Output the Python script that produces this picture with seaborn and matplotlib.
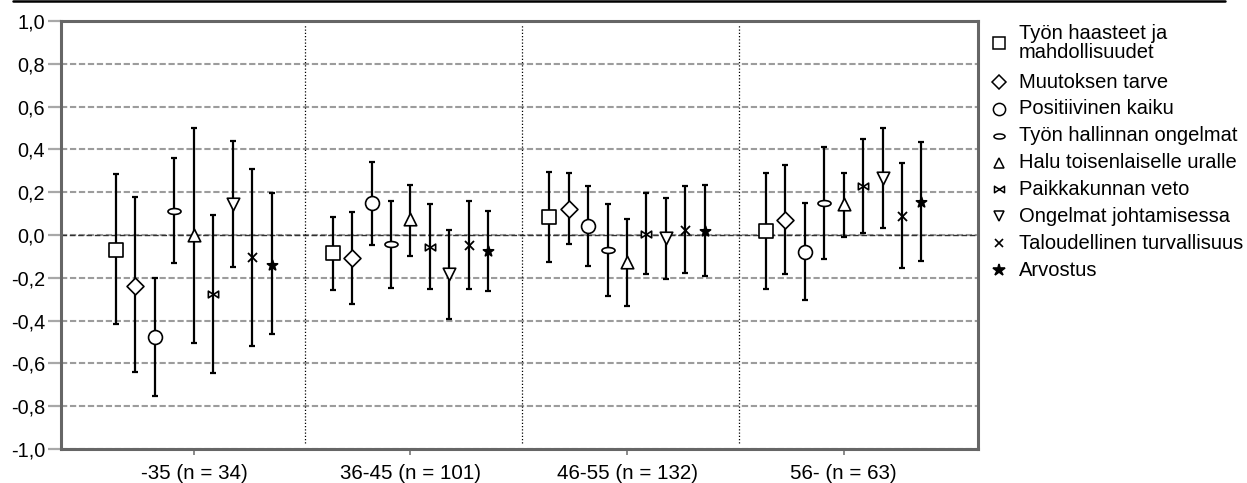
import numpy as np
import pandas as pd
import matplotlib
matplotlib.use("Agg")
import matplotlib.pyplot as plt
from matplotlib.path import Path
from matplotlib.lines import Line2D
import seaborn as sns

# ---- data -------------------------------------------------------------
age_groups = ["-35 (n = 34)", "36-45 (n = 101)", "46-55 (n = 132)", "56- (n = 63)"]

factors = [
    "Työn haasteet ja\nmahdollisuudet",
    "Muutoksen tarve",
    "Positiivinen kaiku",
    "Työn hallinnan ongelmat",
    "Halu toisenlaiselle uralle",
    "Paikkakunnan veto",
    "Ongelmat johtamisessa",
    "Taloudellinen turvallisuus",
    "Arvostus",
]

# mean factor score per age group (one row per factor)
means = [
    [-0.070, -0.086, 0.083, 0.019],
    [-0.237, -0.109, 0.121, 0.070],
    [-0.478, 0.148, 0.042, -0.081],
    [0.114, -0.042, -0.070, 0.151],
    [0.000, 0.073, -0.125, 0.145],
    [-0.276, -0.055, 0.005, 0.231],
    [0.145, -0.182, -0.016, 0.265],
    [-0.101, -0.047, 0.023, 0.089],
    [-0.140, -0.073, 0.019, 0.156],
]

# 95 % confidence interval, lower bound
ci_low = [
    [-0.416, -0.257, -0.128, -0.252],
    [-0.642, -0.322, -0.044, -0.184],
    [-0.752, -0.047, -0.145, -0.304],
    [-0.132, -0.249, -0.285, -0.114],
    [-0.506, -0.098, -0.330, -0.011],
    [-0.646, -0.254, -0.184, 0.008],
    [-0.148, -0.394, -0.207, 0.031],
    [-0.517, -0.254, -0.179, -0.156],
    [-0.464, -0.262, -0.192, -0.121],
]

# 95 % confidence interval, upper bound
ci_high = [
    [0.285, 0.086, 0.296, 0.291],
    [0.179, 0.109, 0.291, 0.327],
    [-0.199, 0.343, 0.231, 0.151],
    [0.361, 0.160, 0.145, 0.413],
    [0.500, 0.232, 0.075, 0.291],
    [0.093, 0.145, 0.198, 0.447],
    [0.438, 0.023, 0.174, 0.502],
    [0.308, 0.160, 0.229, 0.335],
    [0.198, 0.111, 0.234, 0.436],
]

y_ticks = [-1.0, -0.8, -0.6, -0.4, -0.2, 0.0, 0.2, 0.4, 0.6, 0.8, 1.0]

# ---- marker shapes ----------------------------------------------------
_circle = Path.unit_circle()
ellipse_marker = Path(_circle.vertices * np.array([1.0, 0.45]), _circle.codes)
bowtie_marker = Path(
    [(-1, -0.65), (0, 0), (-1, 0.65), (-1, -0.65),
     (1, -0.65), (0, 0), (1, 0.65), (1, -0.65)],
    [Path.MOVETO, Path.LINETO, Path.LINETO, Path.CLOSEPOLY,
     Path.MOVETO, Path.LINETO, Path.LINETO, Path.CLOSEPOLY],
)

# (marker, size in plot [pt], size in legend [pt], open marker?)
styles = [
    ("s", 10.0, 9.0, True),
    ("D", 8.6, 7.6, True),
    ("o", 10.0, 8.8, True),
    (ellipse_marker, 9.4, 8.0, True),
    ("^", 9.0, 7.6, True),
    (bowtie_marker, 7.4, 7.2, True),
    ("v", 9.0, 7.6, True),
    ("x", 6.5, 6.0, False),
    ("*", 7.6, 9.0, False),
]

# ---- figure -----------------------------------------------------------
sns.set_theme(style="white")
plt.rcParams["font.family"] = ["Liberation Sans", "DejaVu Sans"]
plt.rcParams["text.color"] = "black"

W, H = 1247, 483
fig = plt.figure(figsize=(W / 100, H / 100), dpi=100)
fig.patch.set_facecolor("white")
ax = fig.add_axes([61 / W, 1 - 449 / H, (978 - 61) / W, (449 - 21) / H])

n_fac = len(factors)
step = 0.09
group_pos = np.arange(len(age_groups))

for i, name in enumerate(factors):
    marker, size, _, is_open = styles[i]
    m = np.array(means[i])
    lo = np.array(ci_low[i])
    hi = np.array(ci_high[i])
    df = pd.DataFrame({"x": group_pos + (i - (n_fac - 1) / 2) * step, "mean": m})

    ax.errorbar(df["x"], df["mean"], yerr=[m - lo, hi - m], fmt="none",
                ecolor="black", elinewidth=1.6, capsize=2.4, capthick=1.6,
                zorder=3)
    if is_open:
        sns.scatterplot(data=df, x="x", y="mean", marker=marker, s=size ** 2,
                        facecolor="white", edgecolor="black", linewidth=1.2,
                        ax=ax, zorder=4, legend=False)
    else:
        sns.scatterplot(data=df, x="x", y="mean", marker=marker, s=size ** 2,
                        color="black", edgecolor="black", linewidth=1.3,
                        ax=ax, zorder=4, legend=False)

# axes limits and ticks
ax.set_xlim(-0.614, 3.621)
ax.set_ylim(-1.0, 1.0)
ax.set_xticks(group_pos)
ax.set_xticklabels(age_groups)
ax.set_yticks(y_ticks)
ax.set_yticklabels([f"{v:.1f}".replace(".", ",") for v in y_ticks])
ax.set_xlabel("")
ax.set_ylabel("")
ax.tick_params(axis="y", length=9.5, width=1.6, color="#a8a8a8", pad=2,
               labelsize=14.3, labelcolor="black", left=True)
ax.tick_params(axis="x", length=4, width=1.4, color="#8a8a8a", pad=7,
               labelsize=14.8, labelcolor="black", bottom=True)

for sp in ax.spines.values():
    sp.set_visible(True)
    sp.set_color("#666666")
    sp.set_linewidth(2.2)
    sp.set_zorder(5)

# horizontal reference lines
ax.grid(axis="y", color="#9c9c9c", linestyle=(0, (3.0, 1.3)), linewidth=1.5,
        zorder=1)
ax.grid(axis="x", visible=False)
ax.set_axisbelow(True)
ax.axhline(0, color="#303030", linestyle=(0, (4.0, 2.0)), linewidth=1.0,
           zorder=2)

# dotted separators between age groups
ax.vlines(group_pos[:-1] + 0.515, -0.97, 0.98, colors="black",
          linestyles=(0, (1, 1.6)), linewidth=0.9, zorder=2)

# rule across the top
fig.add_artist(Line2D([13 / W, 1225 / W], [1 - 1.2 / H] * 2,
                      transform=fig.transFigure, color="black", linewidth=1.8))

# ---- legend -----------------------------------------------------------
mark_x = 999 / W
text_x = 1019 / W
row_y = [43] + list(82 + 26.86 * np.arange(n_fac - 1))
for i, name in enumerate(factors):
    marker, _, lsize, is_open = styles[i]
    yf = 1 - row_y[i] / H
    fig.add_artist(Line2D([mark_x], [yf], transform=fig.transFigure,
                          marker=marker, markersize=lsize, linestyle="none",
                          markerfacecolor="white" if is_open else "black",
                          markeredgecolor="black",
                          markeredgewidth=1.1 if is_open else 1.2))
    fig.text(text_x, yf, name, fontsize=14.5, va="center", ha="left",
             linespacing=0.95, color="black")

fig.savefig("out.png", dpi=100, facecolor="white")
